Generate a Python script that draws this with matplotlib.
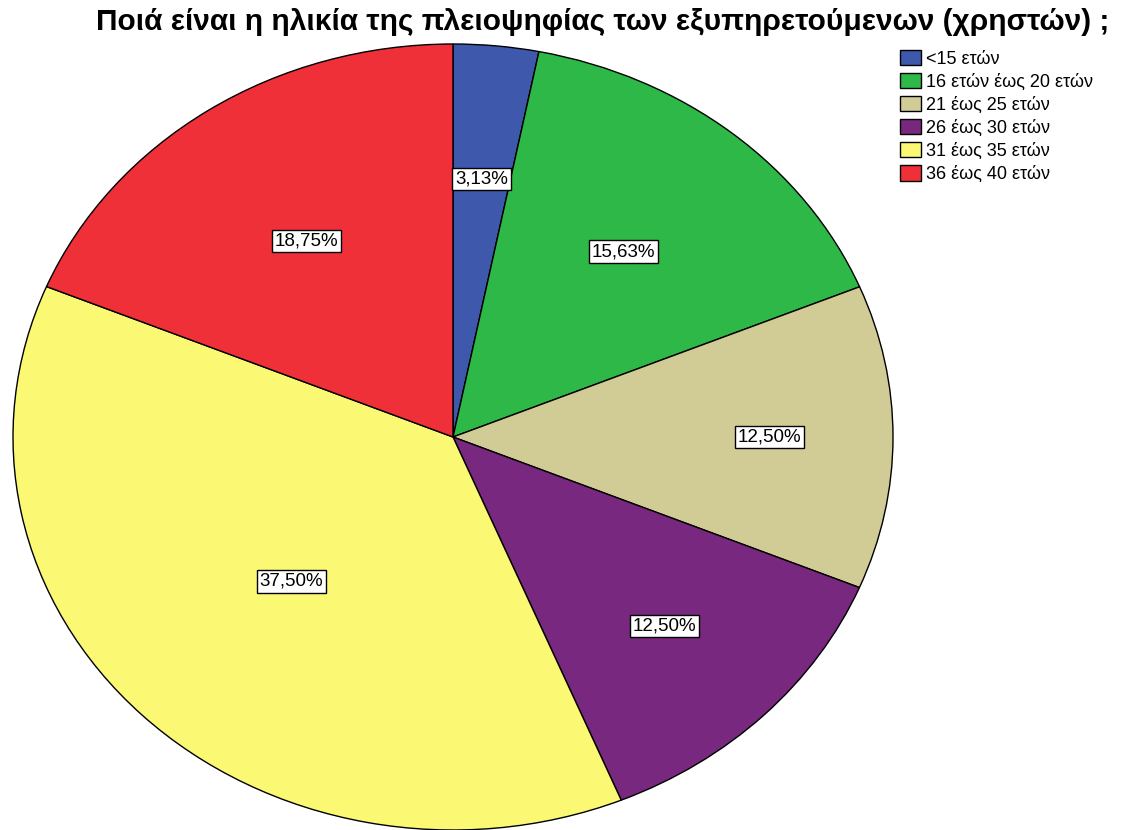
import numpy as np
import matplotlib
matplotlib.use("Agg")
import matplotlib.pyplot as plt

plt.rcParams["font.family"] = ["Liberation Sans", "DejaVu Sans"]

# age groups of the users and their share (%)
categories = ["<15 ετών", "16 ετών έως 20 ετών", "21 έως 25 ετών",
              "26 έως 30 ετών", "31 έως 35 ετών", "36 έως 40 ετών"]
percent = [3.13, 15.63, 12.50, 12.50, 37.50, 18.75]
colors = ["#3E58AC", "#2EB848", "#D1CC95", "#78287E", "#FBF874", "#EF3038"]

# radial position of each percentage box (fraction of the radius)
label_r = [0.66, 0.61, 0.72, 0.68, 0.52, 0.60]

fig = plt.figure(figsize=(11.21, 8.30), dpi=100)
fig.patch.set_facecolor("white")

# the pie is stretched horizontally, so use a non-equal aspect axes
ax = fig.add_axes([13 / 1121, 0.0, 880 / 1121, 786 / 830])
wedges, _ = ax.pie(percent, colors=colors, startangle=90, counterclock=False,
                   wedgeprops=dict(edgecolor="black", linewidth=1.0),
                   radius=1.0, center=(0, 0), frame=False)
ax.set_xlim(-1, 1)
ax.set_ylim(-1, 1)
ax.set_aspect("auto")
ax.axis("off")

for w, p, r in zip(wedges, percent, label_r):
    mid = np.deg2rad((w.theta1 + w.theta2) / 2)
    ax.text(r * np.cos(mid), r * np.sin(mid), f"{p:.2f}%".replace(".", ","),
            ha="center", va="center", fontsize=13.5,
            bbox=dict(boxstyle="square,pad=0.15", facecolor="white",
                      edgecolor="black", linewidth=1.0))

fig.text(0.538, 0.974, "Ποιά είναι η ηλικία της πλειοψηφίας των εξυπηρετούμενων (χρηστών) ;",
         ha="center", va="center", fontsize=21.5, fontweight="bold")

fig.legend(wedges, categories, loc="upper left", bbox_to_anchor=(0.795, 0.951),
           frameon=False, fontsize=13, handlelength=1.15, handleheight=0.95,
           handletextpad=0.3, labelspacing=0.28, borderpad=0.0)

fig.savefig("out.png", dpi=100)
